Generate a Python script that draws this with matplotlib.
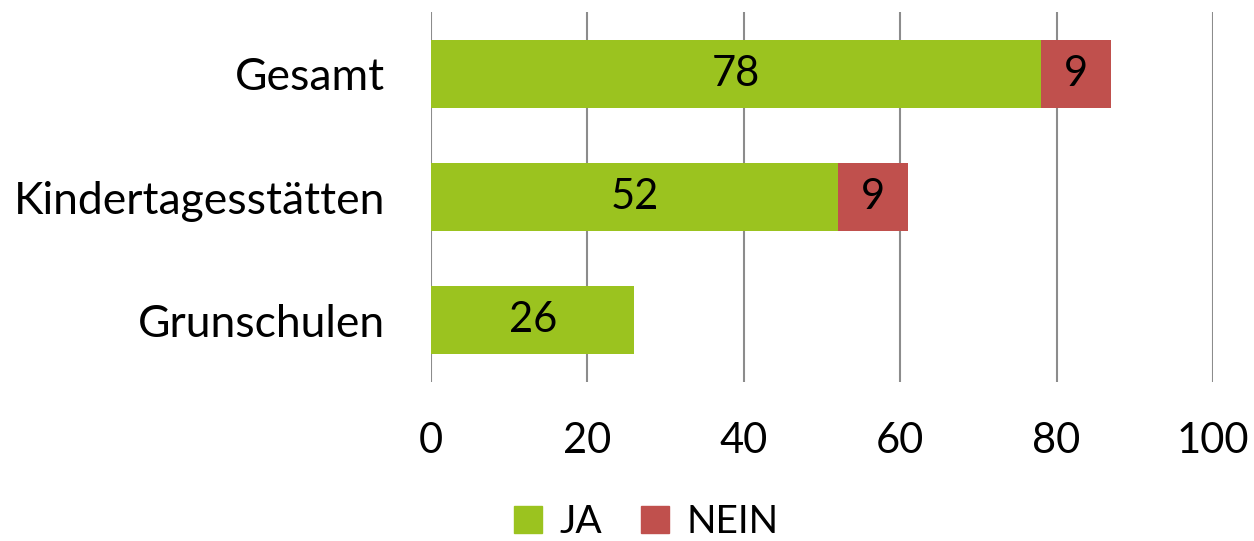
import matplotlib.pyplot as plt
from matplotlib.patches import Patch

categories = ['Gesamt', 'Kindertagesstätten', 'Grunschulen']
ja = [78, 52, 26]
nein = [9, 9, 0]
xticks = [0, 20, 40, 60, 80, 100]

green = '#9BC31F'
red = '#C0504D'

plt.rcParams['font.family'] = ['Lato', 'DejaVu Sans']
plt.rcParams['font.size'] = 30

fig = plt.figure(figsize=(12.54, 5.41), dpi=100)
ax = fig.add_axes([431 / 1254, 1 - 382 / 541, (1213 - 431) / 1254, (382 - 12) / 541])

y = list(range(len(categories)))[::-1]
ax.barh(y, ja, height=0.55, color=green, zorder=3)
ax.barh(y, nein, left=ja, height=0.55, color=red, zorder=3)

for yi, a, n in zip(y, ja, nein):
    ax.text(a / 2, yi, str(a), ha='center', va='center', fontsize=30, zorder=4)
    if n:
        ax.text(a + n / 2, yi, str(n), ha='center', va='center', fontsize=30, zorder=4)

ax.set_xlim(0, 100)
ax.set_ylim(-0.5, 2.5)
ax.set_xticks(xticks)
ax.set_yticks(y)
ax.set_yticklabels(categories, fontsize=32)
ax.tick_params(axis='x', length=0, pad=29, labelsize=30)
ax.tick_params(axis='y', length=0, pad=33)
ax.grid(axis='x', color='#8c8c8c', linewidth=1.5, zorder=0)
for s in ax.spines.values():
    s.set_visible(False)

handles = [Patch(color=green, label='JA'), Patch(color=red, label='NEIN')]
fig.legend(handles=handles, loc='center', bbox_to_anchor=(646 / 1254, 1 - 522 / 541),
           ncol=2, frameon=False, fontsize=28, handlelength=0.72, handleheight=0.72,
           handletextpad=0.45, columnspacing=1.0)

fig.savefig('out.png', dpi=100)
